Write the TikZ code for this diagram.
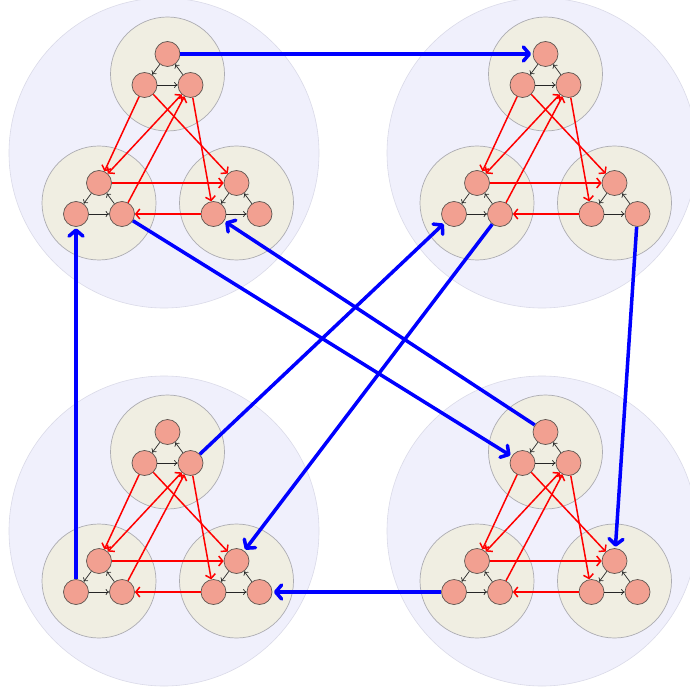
\documentclass[tikz,border=0pt]{standalone}
\usetikzlibrary{arrows.meta}
\definecolor{lav}{RGB}{240,240,252}
\definecolor{lavb}{RGB}{218,218,232}
\definecolor{beige}{RGB}{240,238,226}
\definecolor{beigeb}{RGB}{172,172,178}
\definecolor{salmon}{RGB}{242,160,145}
\definecolor{salb}{RGB}{95,85,80}
\tikzset{
 bigc/.style={circle, fill=lav, draw=lavb, line width=0.6pt, minimum size=310pt, inner sep=0pt},
 midc/.style={circle, fill=beige, draw=beigeb, line width=0.7pt, minimum size=114pt, inner sep=0pt},
 dot/.style={circle, fill=salmon, draw=salb, line width=0.7pt, minimum size=25pt, inner sep=0pt},
 blk/.style={-{To[length=3.5pt,width=6pt]}, black!85, line width=0.7pt},
 redA/.style={-{Straight Barb[length=4pt,width=10pt]}, red, line width=1.5pt},
 redB/.style={{Straight Barb[length=4pt,width=10pt]}-{Straight Barb[length=4pt,width=10pt]}, red, line width=1.5pt},
 blueA/.style={-{Straight Barb[length=6pt,width=14pt,round]}, blue, line width=3.5pt, shorten >=1.5pt},
}
\newcommand{\unitgrp}[3]{%
 \begin{scope}[shift={(#2,#3)}]
 \node[bigc] (#1big) at (164,153) {};
 \foreach \g/\cx/\cy in {T/167.5/74, L/99/203, R/236.5/203}{
   \node[midc] (#1\g c) at (\cx,\cy) {};
   \node[dot] (#1\g1) at (\cx,\cy-20) {};
   \node[dot] (#1\g2) at (\cx-23,\cy+11) {};
   \node[dot] (#1\g3) at (\cx+23,\cy+11) {};
   \draw[blk] (#1\g1) -- (#1\g2);
   \draw[blk] (#1\g2) -- (#1\g3);
   \draw[blk] (#1\g3) -- (#1\g1);
 }
 \draw[redA] (#1T2) -- (#1L1);
 \draw[redB] (#1T3) -- (#1L1);
 \draw[redA] (#1T2) -- (#1R1);
 \draw[redA] (#1T3) -- (#1R2);
 \draw[redA] (#1L1) -- (#1R1);
 \draw[redA] (#1R2) -- (#1L3);
 \draw[redA] (#1L3) -- (#1T3);
 \end{scope}}
\begin{document}
\begin{tikzpicture}[x=1pt,y=-1pt]
\useasboundingbox (0,0) rectangle (689,692);
\unitgrp{A}{0}{0}
\unitgrp{B}{378}{0}
\unitgrp{C}{0}{378}
\unitgrp{D}{378}{378}
\draw[blueA] (AT1) -- (BT1);
\draw[blueA] (DT1) -- (AR2);
\draw[blueA] (AL3) -- (DT2);
\draw[blueA] (CL2) -- (AL2);
\draw[blueA] (CT3) -- (BL2);
\draw[blueA] (BL3) -- (CR1);
\draw[blueA] (BR3) -- (DR1);
\draw[blueA] (DL2) -- (CR3);
\end{tikzpicture}
\end{document}
